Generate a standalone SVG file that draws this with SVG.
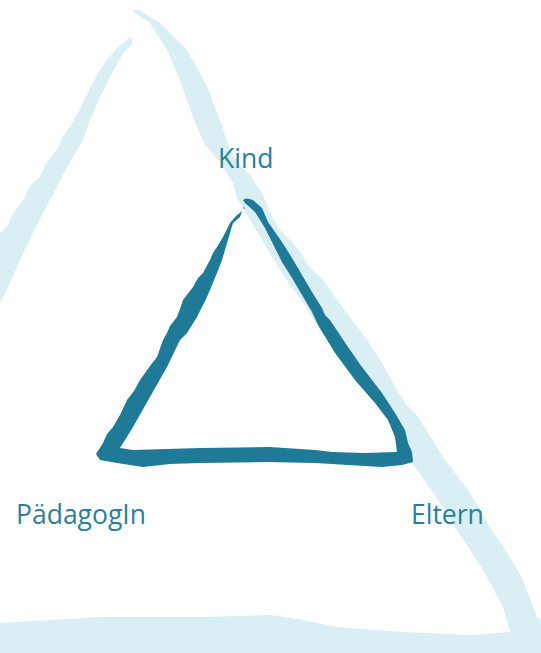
<svg xmlns="http://www.w3.org/2000/svg" width="541" height="653" viewBox="0 0 541 653">
<style>
.light{fill:#d9eff4}
.dark{fill:#1e7a96}
.lbl{font-family:"Open Sans","Noto Sans",sans-serif;font-size:26.5px;fill:#2b7f9c}
</style>
<rect width="541" height="653" fill="#ffffff"/>
<g id="background">
<path class="light" d="M132,11 L150,23 L167,50 L178,75 L187,100 L196,125 L205,145 L220,162 L233,183 L237,198 L255,228 L275,262 L292,288 L305,305 L320,330 L340,355 L360,380 L380,405 L395,430 L405,450 L412,463 L435,495 L457,530 L483,570 L503,607 L510,632 L470,635 L403,632 L337,627 L303,620 L270,615 L200,617 L100,617 L0,623 L0,653 L541,653 L541,620 L537,617 L523,580 L510,557 L490,527 L470,493 L443,457 L420,420 L415,413 L405,403 L395,387 L382,363 L365,337 L352,320 L337,300 L325,282 L318,275 L308,265 L302,255 L292,242 L278,228 L268,208 L263,195 L250,175 L240,165 L230,150 L222,125 L212,100 L210,93 L200,73 L187,50 L160,23 L140,11 Q136,9 132,11 Z"/>
<path class="light" d="M130,37 L133,43 L123,53 L110,77 L100,97 L90,120 L83,140 L67,167 L57,187 L43,213 L33,233 L20,260 L7,290 L0,303 L0,233 L7,227 L12,215 L23,200 L30,186 L40,177 L48,160 L57,150 L63,136 L70,127 L78,112 L83,103 L88,92 L93,83 L100,70 L107,60 L117,48 L127,40 Z"/>
</g>
<g id="connectors">
<path class="dark" d="M242,211 L236,216 L230,223 L226,231 L223,237 L217,247 L213,253 L210,260 L203,273 L198,278 L193,287 L183,300 L180,309 L177,317 L170,326 L167,333 L163,340 L157,357 L150,366 L140,380 L134,391 L127,400 L120,415 L113,427 L107,434 L103,443 L96,454 L100,460 L117,463 L143,467 L170,464 L200,463 L267,462 L315,463 L348,465 L382,467 L402,465 L413,462 L412,452 L408,443 L405,430 L395,413 L382,393 L362,367 L348,347 L330,320 L325,315 L322,308 L312,292 L302,275 L292,258 L282,242 L275,232 L268,222 L262,208 L253,200 Q246,197 243,200 L245,203 L255,212 L265,228 L272,242 L282,262 L292,278 L302,295 L312,312 L318,325 L335,353 L355,380 L375,403 L388,420 L395,437 L397,452 L365,453 L332,452 L315,450 L270,447 L200,448 L133,450 L120,448 L133,427 L150,397 L167,367 L180,340 L187,333 L197,317 L207,297 L217,273 L222,260 L227,243 L230,233 L233,223 L240,217 Z"/>
<circle class="dark" cx="238" cy="216" r="0.9"/>
<circle class="dark" cx="244" cy="208" r="0.8"/>
</g>
<g id="kind"><text class="lbl" x="218" y="168">Kind</text></g>
<g id="paedagogin"><text class="lbl" x="16" y="524">PädagogIn</text></g>
<g id="eltern"><text class="lbl" x="411" y="524">Eltern</text></g>
</svg>
